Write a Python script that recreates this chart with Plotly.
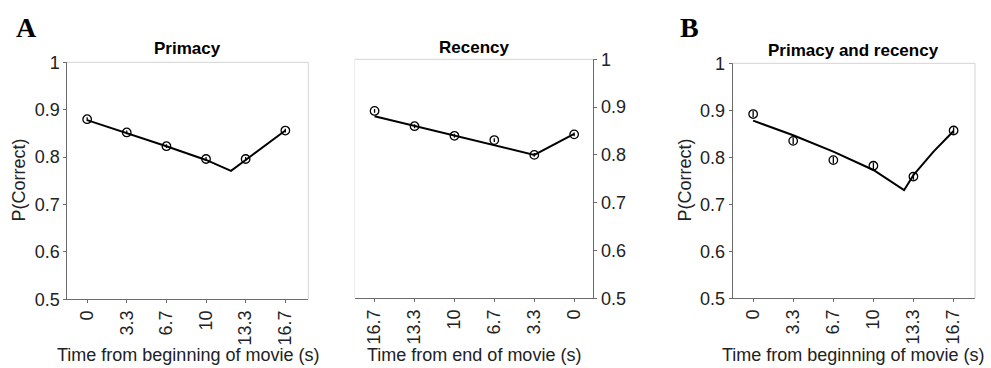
import plotly.graph_objects as go

W, H = 991, 368

# ---- data ----
time_ticks = [0, 3.33, 6.67, 10, 13.33, 16.67]
time_labels = ["0", "3.3", "6.7", "10", "13.3", "16.7"]
y_ticks = [0.5, 0.6, 0.7, 0.8, 0.9, 1.0]
y_labels = ["0.5", "0.6", "0.7", "0.8", "0.9", "1"]

primacy_obs = [0.880, 0.852, 0.823, 0.796, 0.796, 0.856]
primacy_err = [0.004, 0.004, 0.004, 0.004, 0.004, 0.004]
primacy_fit_x = [0, 3.33, 6.67, 10, 12.1, 13.33, 16.67]
primacy_fit_y = [0.878, 0.851, 0.823, 0.794, 0.771, 0.794, 0.856]

recency_obs = [0.892, 0.860, 0.840, 0.831, 0.800, 0.843]
recency_err = [0.004, 0.004, 0.004, 0.004, 0.004, 0.004]
recency_time = [16.67, 13.33, 10, 6.67, 3.33, 0]
recency_fit_x = [16.67, 3.33, 0]
recency_fit_y = [0.881, 0.800, 0.844]

both_obs = [0.892, 0.835, 0.794, 0.782, 0.759, 0.857]
both_err = [0.007, 0.007, 0.007, 0.007, 0.007, 0.007]
both_fit_x = [0, 3.33, 6.67, 10, 12.55, 13.33, 15, 16.67]
both_fit_y = [0.878, 0.847, 0.812, 0.773, 0.730, 0.762, 0.812, 0.856]

x_titles = ["Time from beginning of movie (s)", "Time from end of movie (s)",
            "Time from beginning of movie (s)"]
y_title = "P(Correct)"
panel_titles = ["Primacy", "Recency", "Primacy and recency"]
panel_letters = ["A", "B"]

# ---- layout geometry (pixels) ----
def xd(a, b):
    return [a / W, b / W]

def yd(top, bottom):
    return [(H - bottom) / H, (H - top) / H]

FONT = "Liberation Sans, Arial, Helvetica, sans-serif"
AX = "#6b6b6b"
FRAME = "#d4d4d4"

fig = go.Figure()

def add_panel(n, xs, ys, err, fx, fy):
    xa = "x" if n == 1 else f"x{n}"
    ya = "y" if n == 1 else f"y{n}"
    fig.add_trace(go.Scatter(x=fx, y=fy, mode="lines", line=dict(color="black", width=2),
                             xaxis=xa, yaxis=ya, showlegend=False, hoverinfo="skip"))
    fig.add_trace(go.Scatter(x=xs, y=ys, mode="markers",
                             marker=dict(symbol="circle-open", size=8.5, color="black",
                                         line=dict(width=1.3, color="black")),
                             error_y=dict(type="data", array=err, visible=True,
                                          thickness=1.3, width=0, color="black"),
                             xaxis=xa, yaxis=ya, showlegend=False))

add_panel(1, time_ticks, primacy_obs, primacy_err, primacy_fit_x, primacy_fit_y)
add_panel(2, recency_time, recency_obs, recency_err, recency_fit_x, recency_fit_y)
add_panel(3, time_ticks, both_obs, both_err, both_fit_x, both_fit_y)

tickfont = dict(family=FONT, size=18, color="#222")
titlefont = dict(family=FONT, size=18, color="#222")

def xaxis(dom, rng, anchor):
    return dict(domain=dom, range=rng, tickvals=time_ticks, ticktext=time_labels,
                tickangle=-90, tickfont=tickfont, ticks="outside", ticklen=3,
                tickcolor=AX, showline=True, linecolor=AX, linewidth=1,
                showgrid=False, zeroline=False, fixedrange=True,
                automargin=False, anchor=anchor)

def yaxis(dom, side, anchor):
    return dict(domain=dom, range=[0.5, 1.0], tickvals=y_ticks, ticktext=y_labels,
                tickfont=tickfont, ticks="outside", ticklen=3, tickcolor=AX,
                showline=True, linecolor=AX, linewidth=1, showgrid=False,
                zeroline=False, side=side, anchor=anchor, fixedrange=True,
                automargin=False)

p1x, p1y = (67.3, 308.3), (62.3, 299.3)
p2x, p2y = (354.7, 593.3), (59.3, 298.3)
p3x, p3y = (732.7, 975.0), (63.3, 298.3)

fig.update_layout(
    width=W, height=H, margin=dict(l=0, r=0, t=0, b=0, autoexpand=False),
    paper_bgcolor="white", plot_bgcolor="white",
    xaxis=xaxis(xd(*p1x), [-1.67, 18.6], "y"),
    yaxis=yaxis(yd(*p1y), "left", "x"),
    xaxis2=xaxis(xd(*p2x), [18.33, -1.6], "y2"),
    yaxis2=yaxis(yd(*p2y), "right", "x2"),
    xaxis3=xaxis(xd(*p3x), [-1.7, 18.45], "y3"),
    yaxis3=yaxis(yd(*p3y), "left", "x3"),
)

# light frame lines (top / opposite side)
def frame(xref, yref, side):
    shapes = [dict(type="line", xref=f"{xref} domain", yref=f"{yref} domain",
                   x0=0, x1=1, y0=1, y1=1, line=dict(color=FRAME, width=1))]
    xv = 1 if side == "right" else 0
    shapes.append(dict(type="line", xref=f"{xref} domain", yref=f"{yref} domain",
                       x0=xv, x1=xv, y0=0, y1=1,
                       line=dict(color=FRAME if side == "right" else "#ececec", width=1)))
    return shapes

shapes = frame("x", "y", "right") + frame("x2", "y2", "left") + frame("x3", "y3", "right")
fig.update_layout(shapes=shapes)

ann = []
def text(t, cx, cy, font, angle=0):
    ann.append(dict(text=t, x=cx / W, y=1 - cy / H, xref="paper", yref="paper",
                    showarrow=False, xanchor="center", yanchor="middle",
                    textangle=angle, font=font))

# panel titles
for t, px, cy in zip(panel_titles, [p1x, p2x, p3x], [49, 47, 50]):
    text(f"<b>{t}</b>", (px[0] + px[1]) / 2, cy,
         dict(family=FONT, size=17, color="black"))
# axis titles
for t, cx in zip(x_titles, [187.5, 474, 853]):
    text(t, cx, 355, titlefont)
for cx in [18.5, 684.5]:
    text(y_title, cx, 180, titlefont, angle=-90)
# panel letters
for t, cx in zip(panel_letters, [26, 689]):
    text(f"<b>{t}</b>", cx, 27,
         dict(family="Liberation Serif, Times New Roman, serif", size=28, color="black"))
fig.update_layout(annotations=ann)

fig.write_html("out.html", config={"displayModeBar": False, "staticPlot": True},
               post_script="document.body.style.margin='0';document.body.style.overflow='hidden';")
